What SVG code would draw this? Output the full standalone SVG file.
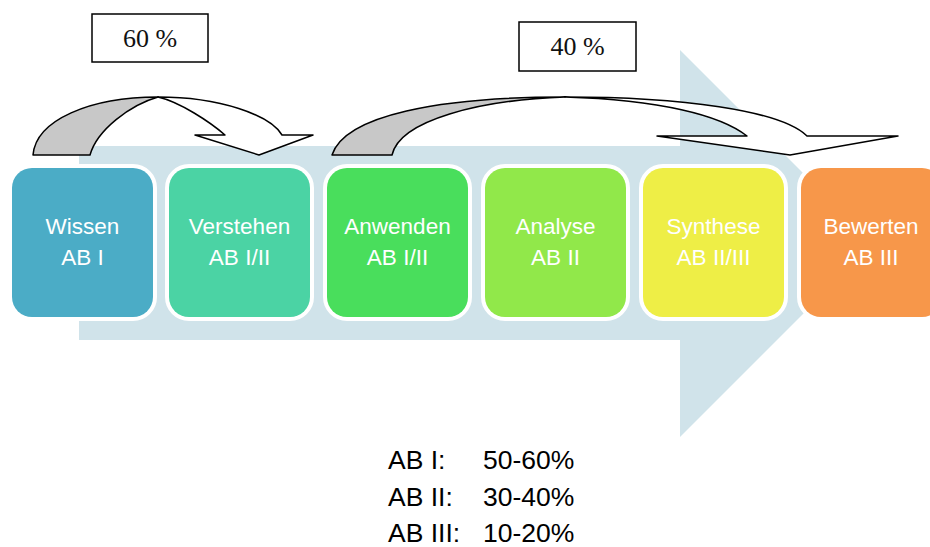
<svg xmlns="http://www.w3.org/2000/svg" width="930" height="547" viewBox="0 0 930 547">
  <style>
    .box { stroke: #ffffff; stroke-width: 8; paint-order: stroke; }
    .lbl { font-family: "Liberation Sans", Arial, sans-serif; font-size: 22.5px; fill: #ffffff; text-anchor: middle; }
    .pct { font-family: "Liberation Serif", "Times New Roman", serif; font-size: 26px; fill: #111111; text-anchor: middle; }
    .pbox { fill: #ffffff; stroke: #000000; stroke-width: 1.5; }
    .rib { stroke: #000000; stroke-width: 1.5; stroke-linejoin: round; }
    .leg { font-family: "Liberation Sans", Arial, sans-serif; font-size: 26.5px; fill: #000000; }
  </style>

  <!-- big background arrow -->
  <polygon id="bigArrow" points="79,146 680,146 680,50 873.5,243.5 680,437 680,340 79,340" fill="#d0e3ea"/>

  <!-- nodes -->
  <g id="wissen">
    <rect class="box" x="12" y="168" width="141" height="149" rx="20" fill="#4bacc6"/>
    <text class="lbl" x="82.5" y="234">Wissen</text>
    <text class="lbl" x="82.5" y="265">AB I</text>
  </g>
  <g id="verstehen">
    <rect class="box" x="169" y="168" width="141" height="149" rx="20" fill="#4bd3a4"/>
    <text class="lbl" x="239.5" y="234">Verstehen</text>
    <text class="lbl" x="239.5" y="265">AB I/II</text>
  </g>
  <g id="anwenden">
    <rect class="box" x="327" y="168" width="141" height="149" rx="20" fill="#49de5c"/>
    <text class="lbl" x="397.5" y="234">Anwenden</text>
    <text class="lbl" x="397.5" y="265">AB I/II</text>
  </g>
  <g id="analyse">
    <rect class="box" x="485" y="168" width="141" height="149" rx="20" fill="#91e84a"/>
    <text class="lbl" x="555.5" y="234">Analyse</text>
    <text class="lbl" x="555.5" y="265">AB II</text>
  </g>
  <g id="synthese">
    <rect class="box" x="643" y="168" width="141" height="149" rx="20" fill="#eeee46"/>
    <text class="lbl" x="713.5" y="234">Synthese</text>
    <text class="lbl" x="713.5" y="265">AB II/III</text>
  </g>
  <g id="bewerten">
    <rect class="box" x="801" y="168" width="141" height="149" rx="20" fill="#f7974a"/>
    <text class="lbl" x="871" y="234">Bewerten</text>
    <text class="lbl" x="871" y="265">AB III</text>
  </g>

  <!-- connectors (curved ribbon arrows) -->
  <g id="connectors">
    <g id="arrow60">
      <path class="rib" fill="#c8c8c8" d="M33,155 C36,120 90,97 158,97 C130,105 97,130 90,155 Z"/>
      <path class="rib" fill="#ffffff" d="M158,97 C220,97 270,115 282,135 L313,135 L259,155 L195,135 L225,135 C210,122 180,102 158,97 Z"/>
    </g>
    <g id="arrow40">
      <path class="rib" fill="#c8c8c8" d="M332,155 C345,115 440,97 565,97 C480,100 400,120 392,155 Z"/>
      <path class="rib" fill="#ffffff" d="M565,97 C680,97 780,110 807,136 L898,136 L790,155 L657,136 L747,136 C720,115 660,100 565,97 Z"/>
    </g>
  </g>

  <!-- percent labels -->
  <g id="label60">
    <rect class="pbox" x="92" y="14" width="116" height="48"/>
    <text class="pct" x="150" y="47">60 %</text>
  </g>
  <g id="label40">
    <rect class="pbox" x="519" y="22" width="117" height="49"/>
    <text class="pct" x="577.5" y="55">40 %</text>
  </g>

  <!-- legend -->
  <g id="legend">
    <text class="leg" x="388" y="469">AB I:</text>
    <text class="leg" x="483" y="469">50-60%</text>
    <text class="leg" x="388" y="506">AB II:</text>
    <text class="leg" x="483" y="506">30-40%</text>
    <text class="leg" x="388" y="542">AB III:</text>
    <text class="leg" x="483" y="542">10-20%</text>
  </g>
</svg>
